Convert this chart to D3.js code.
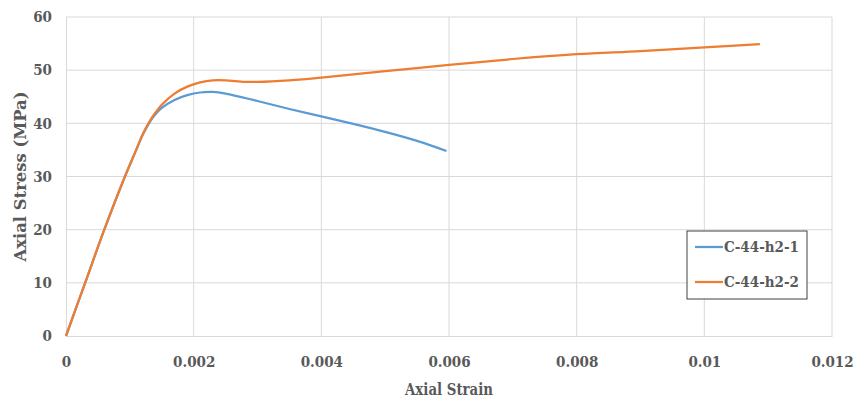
<!DOCTYPE html>
<html>
<head>
<meta charset="utf-8">
<script src="https://cdn.jsdelivr.net/npm/d3@7"></script>
<style>
  body { margin: 0; background: #fff; }
  svg text { font-family: "DejaVu Serif Condensed", "DejaVu Serif", serif; font-stretch: condensed; font-weight: bold; fill: #595959; }
</style>
</head>
<body>
<div id="chart"></div>
<script>
// Axis ticks
const xTicks = [0, 0.002, 0.004, 0.006, 0.008, 0.01, 0.012];
const yTicks = [0, 10, 20, 30, 40, 50, 60];

// Series (strain, stress MPa)
const seriesNames = ["C-44-h2-1", "C-44-h2-2"];
const strain1 = [0, 0.0003, 0.0006, 0.0009, 0.0011, 0.0012, 0.0013, 0.0014, 0.0015, 0.0017, 0.0019, 0.0021, 0.0023, 0.0025, 0.003, 0.0035, 0.004, 0.0045, 0.005, 0.0055, 0.00596];
const stress1 = [0, 10, 20, 29.3, 35, 37.8, 40.0, 41.7, 42.9, 44.4, 45.3, 45.8, 45.9, 45.6, 44.2, 42.7, 41.3, 39.9, 38.4, 36.7, 34.8];
const strain2 = [0, 0.0003, 0.0006, 0.0009, 0.0011, 0.0012, 0.0013, 0.0014, 0.0015, 0.0017, 0.0019, 0.0021, 0.0023, 0.0025, 0.0028, 0.003, 0.0035, 0.004, 0.005, 0.006, 0.007, 0.008, 0.009, 0.01, 0.01087];
const stress2 = [0, 10, 20, 29.3, 35, 37.9, 40.2, 42.0, 43.5, 45.6, 46.9, 47.7, 48.1, 48.1, 47.8, 47.8, 48.1, 48.6, 49.8, 51.0, 52.1, 53.0, 53.6, 54.3, 54.9];

const colors = ["#5B9BD5", "#ED7D31"];

const width = 856, height = 400;
const margin = { top: 17, right: 24, bottom: 64, left: 66 };
const innerW = width - margin.left - margin.right;
const innerH = height - margin.top - margin.bottom;

const svg = d3.select("#chart").append("svg")
    .attr("width", width)
    .attr("height", height);

const g = svg.append("g")
    .attr("transform", `translate(${margin.left},${margin.top})`);

const x = d3.scaleLinear().domain([0, 0.012]).range([0, innerW]);
const y = d3.scaleLinear().domain([0, 60]).range([innerH, 0]);

// gridlines
g.append("g")
    .selectAll("line")
    .data(yTicks.filter(d => d > 0))
    .join("line")
    .attr("x1", 0).attr("x2", innerW)
    .attr("y1", d => y(d)).attr("y2", d => y(d))
    .attr("stroke", "#d9d9d9").attr("stroke-width", 1);

g.append("g")
    .selectAll("line")
    .data(xTicks.filter(d => d > 0))
    .join("line")
    .attr("y1", 0).attr("y2", innerH)
    .attr("x1", d => x(d)).attr("x2", d => x(d))
    .attr("stroke", "#d9d9d9").attr("stroke-width", 1);

// axes
const xAxis = d3.axisBottom(x).tickValues(xTicks).tickSize(0).tickPadding(20)
    .tickFormat(d => d === 0 ? "0" : String(+d.toFixed(3)));
const gx = g.append("g").attr("transform", `translate(0,${innerH})`).call(xAxis)
    .attr("font-family", null).attr("font-size", 15);
gx.select(".domain").attr("stroke", "#d9d9d9");
gx.selectAll("text").attr("fill", "#595959");

const yAxis = d3.axisLeft(y).tickValues(yTicks).tickSize(0).tickPadding(14);
const gy = g.append("g").call(yAxis)
    .attr("font-family", null).attr("font-size", 15);
gy.select(".domain").attr("stroke", "#d9d9d9");
gy.selectAll("text").attr("fill", "#595959");

// axis titles
svg.append("text")
    .attr("x", margin.left + innerW / 2)
    .attr("y", 395)
    .attr("text-anchor", "middle")
    .attr("font-size", 16)
    .attr("textLength", 88)
    .attr("lengthAdjust", "spacingAndGlyphs")
    .text("Axial Strain");

svg.append("text")
    .attr("transform", `translate(26,${margin.top + innerH / 2}) rotate(-90)`)
    .attr("text-anchor", "middle")
    .attr("font-size", 16)
    .attr("textLength", 170)
    .attr("lengthAdjust", "spacingAndGlyphs")
    .text("Axial Stress (MPa)");

// lines
const series = [
    strain1.map((s, i) => [s, stress1[i]]),
    strain2.map((s, i) => [s, stress2[i]])
];

const line = d3.line()
    .x(d => x(d[0]))
    .y(d => y(d[1]))
    .curve(d3.curveCatmullRom.alpha(0.5));

g.selectAll("path.series")
    .data(series)
    .join("path")
    .attr("class", "series")
    .attr("fill", "none")
    .attr("stroke", (d, i) => colors[i])
    .attr("stroke-width", 2.25)
    .attr("d", line);

// legend
const legend = svg.append("g").attr("transform", "translate(687,231)");
legend.append("rect")
    .attr("width", 120).attr("height", 68)
    .attr("fill", "#fff").attr("stroke", "#404040").attr("stroke-width", 1);

const items = legend.selectAll("g.item")
    .data(seriesNames)
    .join("g")
    .attr("transform", (d, i) => `translate(8,${16 + i * 35})`);

items.append("line")
    .attr("x1", 0).attr("x2", 28)
    .attr("stroke", (d, i) => colors[i]).attr("stroke-width", 2.25);

items.append("text")
    .attr("x", 29).attr("dy", "0.35em")
    .attr("font-size", 15)
    .text(d => d);
</script>
</body>
</html>
